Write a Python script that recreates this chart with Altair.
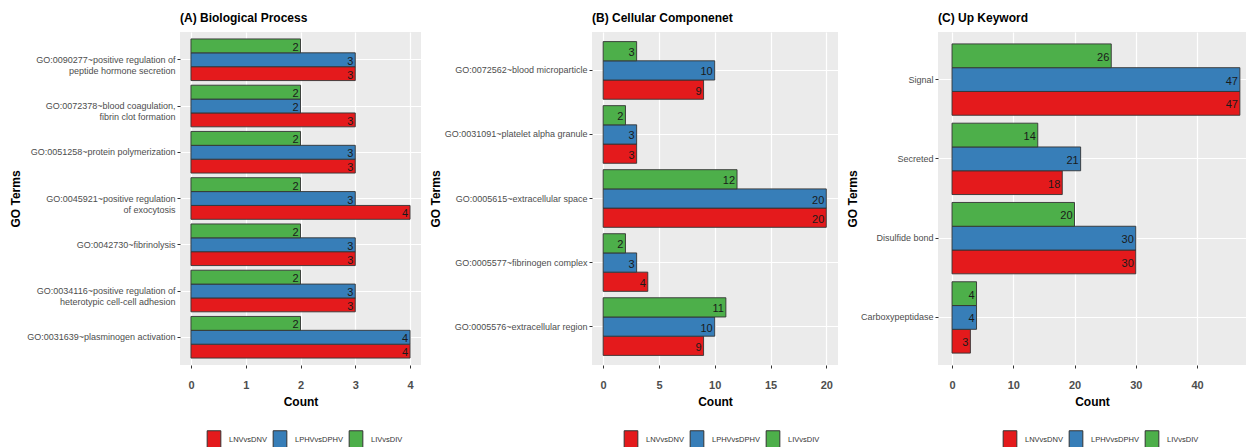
import altair as alt
import pandas as pd

FONT = "Liberation Sans, Arial, sans-serif"
GROUPS = ["LNVvsDNV", "LPHVvsDPHV", "LIVvsDIV"]
COLORS = ["#E41A1C", "#377EB8", "#4DAF4A"]
STACK_ORDER = ["LIVvsDIV", "LPHVvsDPHV", "LNVvsDNV"]

# (A) Biological Process
a_terms = [
    "GO:0090277~positive regulation of|peptide hormone secretion",
    "GO:0072378~blood coagulation,|fibrin clot formation",
    "GO:0051258~protein polymerization",
    "GO:0045921~positive regulation|of exocytosis",
    "GO:0042730~fibrinolysis",
    "GO:0034116~positive regulation of|heterotypic cell-cell adhesion",
    "GO:0031639~plasminogen activation",
]
a_lnv = [3, 3, 3, 4, 3, 3, 4]
a_lphv = [3, 2, 3, 3, 3, 3, 4]
a_liv = [2, 2, 2, 2, 2, 2, 2]

# (B) Cellular Componenet
b_terms = [
    "GO:0072562~blood microparticle",
    "GO:0031091~platelet alpha granule",
    "GO:0005615~extracellular space",
    "GO:0005577~fibrinogen complex",
    "GO:0005576~extracellular region",
]
b_lnv = [9, 3, 20, 4, 9]
b_lphv = [10, 3, 20, 3, 10]
b_liv = [3, 2, 12, 2, 11]

# (C) Up Keyword
c_terms = ["Signal", "Secreted", "Disulfide bond", "Carboxypeptidase"]
c_lnv = [47, 18, 30, 3]
c_lphv = [47, 21, 30, 4]
c_liv = [26, 14, 20, 4]

KEY_SHAPE = "M-0.72,-1L0.72,-1L0.72,1L-0.72,1Z"


def make_df(terms, lnv, lphv, liv):
    rows = []
    for i, t in enumerate(terms):
        for g, v in zip(GROUPS, [lnv[i], lphv[i], liv[i]]):
            rows.append({"term": t, "group": g, "count": v})
    return pd.DataFrame(rows)


def panel(terms, lnv, lphv, liv, title, domain, width, height, values, major,
          legend_x, legend_y, title_pad):
    df = make_df(terms, lnv, lphv, liv)
    x_axis = alt.Axis(
        values=values,
        labelExpr=f"datum.value % {major} == 0 ? format(datum.value, 'd') : ''",
        title="Count",
        titleFont=FONT, titleFontSize=12, titleFontWeight="bold", titleColor="#000",
        labelFont=FONT, labelFontSize=11, labelFontWeight="bold", labelColor="#4D4D4D",
        labelPadding=11, titlePadding=6,
        domain=False,
        gridColor="#FFFFFF",
        gridWidth={"condition": {"test": f"datum.value % {major} != 0", "value": 0.5}, "value": 1.2},
        tickOpacity={"condition": {"test": f"datum.value % {major} != 0", "value": 0}, "value": 1},
        tickColor="#333333", tickSize=3,
    )
    y_axis = alt.Axis(
        labelExpr="split(datum.label, '|')",
        title="GO Terms",
        titleFont=FONT, titleFontSize=12, titleFontWeight="bold", titleColor="#000",
        titlePadding=title_pad,
        labelFont=FONT, labelFontSize=9, labelColor="#4D4D4D", labelLimit=300,
        labelPadding=2, labelLineHeight=11,
        domain=False, grid=True, gridColor="#FFFFFF", gridWidth=1.2,
        bandPosition=0.5,
        tickColor="#333333", tickSize=3,
    )
    x = alt.X("count:Q", scale=alt.Scale(domain=domain, nice=False, zero=False), axis=x_axis)
    y = alt.Y("term:N", sort=terms,
              scale=alt.Scale(paddingInner=0.1, paddingOuter=0.15), axis=y_axis)
    yoff = alt.YOffset("group:N", sort=STACK_ORDER, scale=alt.Scale(paddingInner=0, paddingOuter=0))
    color = alt.Color(
        "group:N",
        scale=alt.Scale(domain=GROUPS, range=COLORS),
        legend=alt.Legend(
            orient="none", legendX=legend_x, legendY=legend_y, direction="horizontal",
            title=None, symbolType=KEY_SHAPE, symbolSize=361,
            symbolStrokeColor="#333333", symbolStrokeWidth=1, symbolOpacity=1,
            labelFont=FONT, labelFontSize=7.5, labelColor="#333333",
            columnPadding=3, labelOffset=5,
        ),
    )
    base = alt.Chart(df)
    bars = base.mark_bar(stroke="#333333", strokeWidth=0.9, clip=True).encode(
        x=x, x2=alt.datum(0), y=y, yOffset=yoff, color=color
    )
    text = base.mark_text(align="right", baseline="middle", dx=-2, dy=2,
                          font=FONT, fontSize=11, color="#1A1A1A").encode(
        x="count:Q", y=y, yOffset=yoff, text="count:Q"
    )
    return (bars + text).properties(
        width=width, height=height,
        title=alt.TitleParams(title, anchor="start", frame="group", font=FONT,
                              fontSize=12, fontWeight="bold", color="#000", offset=7),
    )


pa = panel(a_terms, a_lnv, a_lphv, a_liv, "(A) Biological Process", [-0.2, 4.2], 241, 333,
           [0, 0.5, 1, 1.5, 2, 2.5, 3, 3.5, 4], 1, 24, 398, 4)
pb = panel(b_terms, b_lnv, b_lphv, b_liv, "(B) Cellular Componenet", [-1, 21.05], 246, 333,
           [0, 2.5, 5, 7.5, 10, 12.5, 15, 17.5, 20], 5, 29, 398, 2)
pc = panel(c_terms, c_lnv, c_lphv, c_liv, "(C) Up Keyword", [-2.29, 48.0], 308, 333,
           [0, 5, 10, 15, 20, 25, 30, 35, 40, 45], 10, 62, 398, 1)

chart = alt.hconcat(pa, pb, pc, spacing=8).resolve_scale(
    color="independent", x="independent", y="independent", yOffset="independent"
).configure_view(fill="#EBEBEB", stroke=None).properties(
    padding={"left": 9, "top": 12, "right": 0, "bottom": 0}
)

chart.save("out.html", embed_options={"renderer": "svg", "actions": False})
